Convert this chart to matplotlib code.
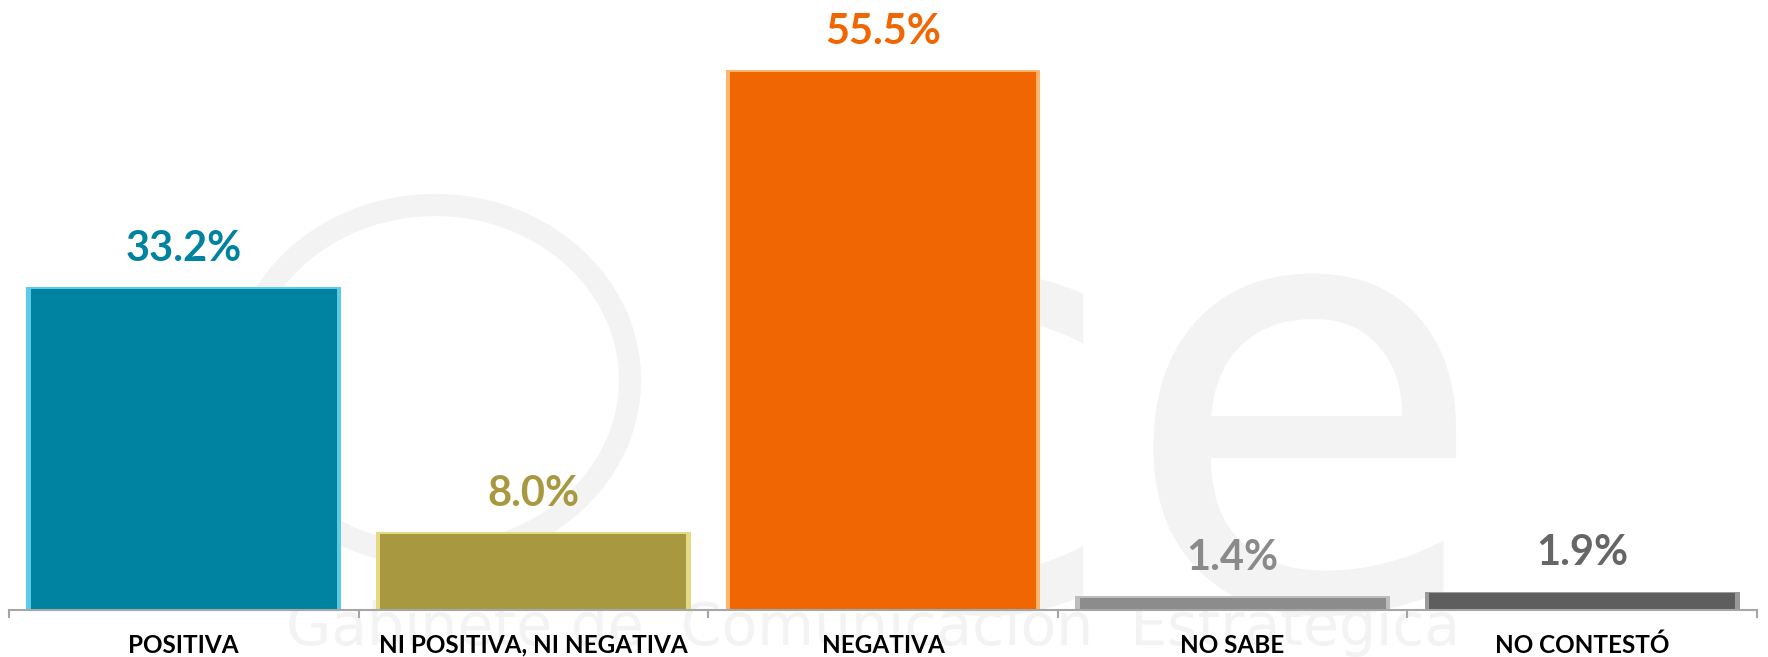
import matplotlib
matplotlib.use("Agg")
import matplotlib.pyplot as plt
from matplotlib.patches import Ellipse

# data
categories = ["POSITIVA", "NI POSITIVA, NI NEGATIVA", "NEGATIVA", "NO SABE", "NO CONTESTÓ"]
values = [33.2, 8.0, 55.5, 1.4, 1.9]
labels = ["33.2%", "8.0%", "55.5%", "1.4%", "1.9%"]

bar_colors = ["#0083A1", "#A89941", "#F06602", "#8C8C8C", "#5E5E5E"]
edge_colors = ["#5CCBE6", "#E4DA85", "#FFB36B", "#BDBDBD", "#9A9A9A"]
text_colors = ["#0083A1", "#A89941", "#F06602", "#8A8A8A", "#666666"]

plt.rcParams["font.family"] = ["Lato", "DejaVu Sans"]

W, H = 1768, 657
fig = plt.figure(figsize=(W / 100, H / 100), dpi=100)
ax = fig.add_axes([9 / W, 47 / H, 1748 / W, 610 / H])
ax.set_zorder(1)
ax.patch.set_alpha(0)

# faint watermark behind the chart
wm = "#F3F3F3"
fig.text(0.645, 0.075, "ce", fontsize=430, color=wm, ha="center",
         va="baseline", family="DejaVu Sans", zorder=-1)
fig.text(0.494, 0.045, "Gabinete de  Comunicación  Estratégica", fontsize=42,
         color=wm, ha="center", va="center", family="DejaVu Sans", zorder=-1)
ring = Ellipse((435 / W, 1 - 380 / H), 390 / W, 350 / H, transform=fig.transFigure,
               fill=False, edgecolor=wm, linewidth=16, zorder=-1)
fig.patches.append(ring)

x = list(range(len(categories)))

# bevel look: light outer bar, main colour inner bar
ax.bar(x, values, width=0.9, color=edge_colors, zorder=2)
ax.bar(x, [v - 0.18 for v in values], width=0.875, color=bar_colors, zorder=3)

for xi, v, lab, c in zip(x, values, labels, text_colors):
    ax.annotate(lab, (xi, v), xytext=(0, 14), textcoords="offset points",
                ha="center", va="bottom", fontsize=30, fontweight="bold",
                color=c, zorder=4)

ax.set_xlim(-0.5, len(categories) - 0.5)
ax.set_ylim(0, 62.7)

for side in ["top", "right", "left"]:
    ax.spines[side].set_visible(False)
ax.spines["bottom"].set_color("#A6A6A6")
ax.spines["bottom"].set_linewidth(1.5)
ax.spines["bottom"].set_zorder(5)

ax.set_yticks([])
ax.set_xticks(x)
ax.set_xticklabels(categories, fontsize=17.5, fontweight="bold", color="black")
ax.tick_params(axis="x", which="major", length=0, pad=17)
ax.set_xticks([i - 0.5 for i in range(len(categories) + 1)], minor=True)
ax.tick_params(axis="x", which="minor", length=6, width=1.5, color="#A6A6A6",
               direction="out")

fig.savefig("out.png", dpi=100)
